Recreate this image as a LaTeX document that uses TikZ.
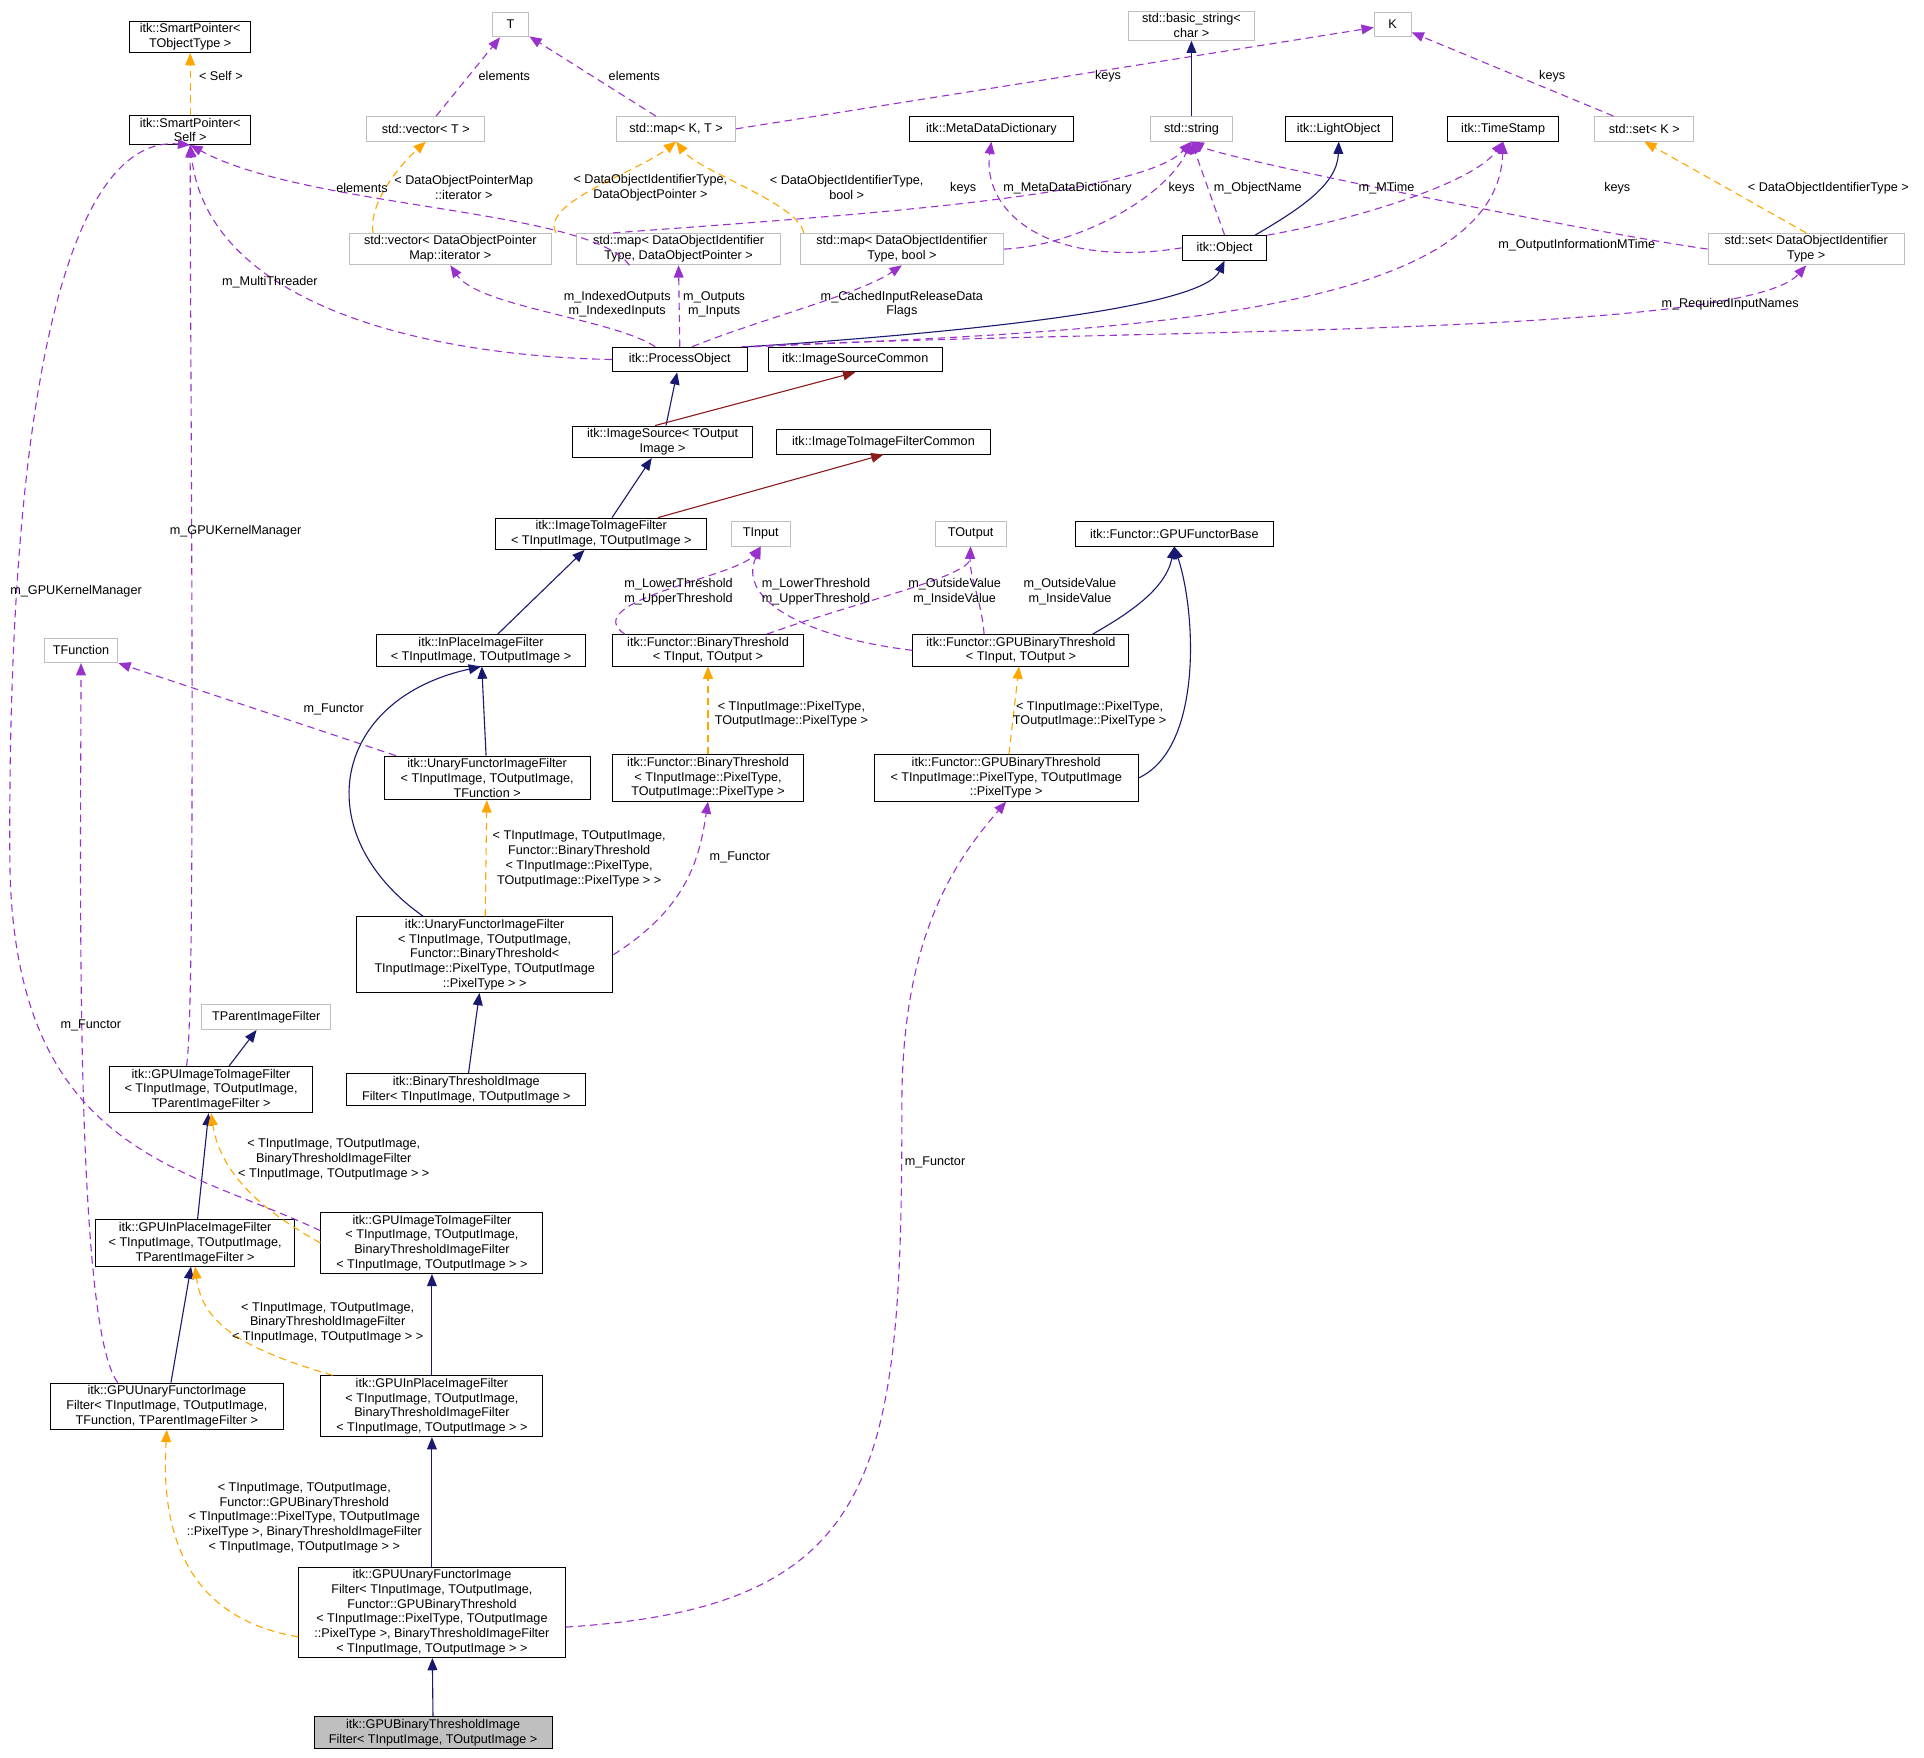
\documentclass[tikz,border=0pt]{standalone}
\usepackage{fontspec}
\setmainfont{Liberation Sans}
\usetikzlibrary{arrows.meta}
\definecolor{navy}{RGB}{25,25,112}
\definecolor{dpurple}{RGB}{153,50,204}
\definecolor{dorange}{RGB}{255,165,0}
\definecolor{dred}{RGB}{139,26,26}
\definecolor{gbox}{RGB}{191,191,191}
\begin{document}
\begin{tikzpicture}[x=1pt,y=-1pt,
  every node/.style={font=\fontsize{10.3}{12}\selectfont,align=center,inner sep=2pt},
  box/.style={draw=black,line width=0.8pt,minimum height=20pt,inner sep=2pt},
  gbox/.style={box,draw=gbox},
  lab/.style={inner sep=0pt},
  inh/.style={draw=navy,line width=0.9pt,-{Triangle[length=10pt,width=8pt]}},
  inr/.style={draw=dred,line width=0.9pt,-{Triangle[length=10pt,width=8pt]}},
  use/.style={draw=dpurple,line width=0.9pt,dash pattern=on 6pt off 4pt,-{Triangle[length=10pt,width=8pt]}},
  tpl/.style={draw=dorange,line width=0.9pt,dash pattern=on 6pt off 4pt,-{Triangle[length=10pt,width=8pt]}}]
\useasboundingbox (0,0) rectangle (1568,1432);
% nodes
\node[box,minimum width=99pt] (SPT) at (155,30) {itk::SmartPointer<\\TObjectType >};
\node[box,minimum width=99pt] (SPS) at (155,106) {itk::SmartPointer<\\Self >};
\node[gbox,minimum width=30pt] (T) at (416,20) {T};
\node[gbox,minimum width=102pt] (bstr) at (971,21) {std::basic\_string<\\char >};
\node[gbox,minimum width=30pt] (K) at (1135,20) {K};
\node[gbox,minimum width=96pt] (vecT) at (347,105) {std::vector< T >};
\node[gbox,minimum width=97pt] (mapKT) at (551,105) {std::map< K, T >};
\node[gbox,minimum width=67pt] (str) at (971,105) {std::string};
\node[gbox,minimum width=81pt] (setK) at (1340,105) {std::set< K >};
\node[box,minimum width=133pt] (MDD) at (808,105) {itk::MetaDataDictionary};
\node[box,minimum width=87pt] (LO) at (1091,105) {itk::LightObject};
\node[box,minimum width=90pt] (TS) at (1225,105) {itk::TimeStamp};
\node[gbox,minimum width=165pt] (vecDOP) at (367,203) {std::vector< DataObjectPointer\\Map::iterator >};
\node[gbox,minimum width=166pt] (mapDOP) at (553,203) {std::map< DataObjectIdentifier\\Type, DataObjectPointer >};
\node[gbox,minimum width=166pt] (mapbool) at (735,203) {std::map< DataObjectIdentifier\\Type, bool >};
\node[box,minimum width=69pt] (Obj) at (998,202) {itk::Object};
\node[gbox,minimum width=160pt] (setDOI) at (1472,203) {std::set< DataObjectIdentifier\\Type >};
\node[box,minimum width=110pt] (PO) at (554,293) {itk::ProcessObject};
\node[box,minimum width=142pt] (ISC) at (697,293) {itk::ImageSourceCommon};
\node[box,minimum width=147pt] (IS) at (540,360) {itk::ImageSource< TOutput\\Image >};
\node[box,minimum width=174pt] (ITIFC) at (720,360) {itk::ImageToImageFilterCommon};
\node[box,minimum width=172pt] (ITIF) at (490,435) {itk::ImageToImageFilter\\< TInputImage, TOutputImage >};
\node[gbox,minimum width=48pt] (TIn) at (620,435) {TInput};
\node[gbox,minimum width=58pt] (TOut) at (791,435) {TOutput};
\node[box,minimum width=161pt] (GFB) at (957,435) {itk::Functor::GPUFunctorBase};
\node[gbox,minimum width=60pt] (TFun) at (66,530) {TFunction};
\node[box,minimum width=171pt] (IPIF) at (392,530) {itk::InPlaceImageFilter\\< TInputImage, TOutputImage >};
\node[box,minimum width=155pt] (BT) at (577,530) {itk::Functor::BinaryThreshold\\< TInput, TOutput >};
\node[box,minimum width=176pt] (GBT) at (832,530) {itk::Functor::GPUBinaryThreshold\\< TInput, TOutput >};
\node[box,minimum width=168pt] (UFIF) at (397,634) {itk::UnaryFunctorImageFilter\\< TInputImage, TOutputImage,\\TFunction >};
\node[box,minimum width=155pt] (BTP) at (577,634) {itk::Functor::BinaryThreshold\\< TInputImage::PixelType,\\TOutputImage::PixelType >};
\node[box,minimum width=215pt] (GBTP) at (820,634) {itk::Functor::GPUBinaryThreshold\\< TInputImage::PixelType, TOutputImage\\::PixelType >};
\node[box,minimum width=209pt] (UFIF2) at (395,778) {itk::UnaryFunctorImageFilter\\< TInputImage, TOutputImage,\\Functor::BinaryThreshold<\\TInputImage::PixelType, TOutputImage\\::PixelType > >};
\node[gbox,minimum width=105pt] (TPIF) at (217,829) {TParentImageFilter};
\node[box,minimum width=165pt] (GITIF) at (172,888) {itk::GPUImageToImageFilter\\< TInputImage, TOutputImage,\\TParentImageFilter >};
\node[box,minimum width=195pt] (BTIF) at (380,888) {itk::BinaryThresholdImage\\Filter< TInputImage, TOutputImage >};
\node[box,minimum width=162pt] (GIPIF) at (159,1013) {itk::GPUInPlaceImageFilter\\< TInputImage, TOutputImage,\\TParentImageFilter >};
\node[box,minimum width=181pt] (GITIF2) at (352,1013) {itk::GPUImageToImageFilter\\< TInputImage, TOutputImage,\\BinaryThresholdImageFilter\\< TInputImage, TOutputImage > >};
\node[box,minimum width=190pt] (GUFIF) at (136,1146) {itk::GPUUnaryFunctorImage\\Filter< TInputImage, TOutputImage,\\TFunction, TParentImageFilter >};
\node[box,minimum width=181pt] (GIPIF2) at (352,1146) {itk::GPUInPlaceImageFilter\\< TInputImage, TOutputImage,\\BinaryThresholdImageFilter\\< TInputImage, TOutputImage > >};
\node[box,minimum width=217pt] (GUFIF2) at (352,1314) {itk::GPUUnaryFunctorImage\\Filter< TInputImage, TOutputImage,\\Functor::GPUBinaryThreshold\\< TInputImage::PixelType, TOutputImage\\::PixelType >, BinaryThresholdImageFilter\\< TInputImage, TOutputImage > >};
\node[box,fill=gbox,minimum width=194pt] (GBTIF) at (353,1412) {itk::GPUBinaryThresholdImage\\Filter< TInputImage, TOutputImage >};
% edges
\draw[tpl] (SPS) -- (SPT);
\draw[use] (vecT) -- (T);
\draw[use] (mapKT) -- (T);
\draw[use] (mapKT.east) -- (K);
\draw[use] (setK) -- (K);
\draw[inh] (str) -- (bstr);
\draw[tpl] (vecDOP.north west) ++(20,0) .. controls (300,170) and (320,140) .. (vecT.south);
\draw[tpl] (mapDOP.north) ++(-100,0) .. controls (440,165) and (520,140) .. (mapKT.south);
\draw[tpl] (mapbool.north) ++(-80,0) .. controls (650,165) and (570,140) .. (mapKT.south);
\draw[tpl] (setDOI.north) -- (setK.south);
\draw[use] (mapDOP.south) ++(-40,0) .. controls (480,170) and (250,170) .. (SPS.south);
\draw[use] (mapDOP.north west) ++(30,0) .. controls (700,175) and (930,160) .. (str.south);
\draw[use] (mapbool.east) .. controls (880,200) and (950,160) .. (str.south);
\draw[use] (Obj.west) .. controls (850,220) and (800,170) .. (MDD.south);
\draw[use] (Obj.north) -- (str.south);
\draw[use] (Obj.north east) .. controls (1100,180) and (1200,150) .. (TS.south);
\draw[inh] (Obj.north east) ++(-10,0) .. controls (1060,170) and (1090,150) .. (LO.south);
\draw[use] (setDOI.west) .. controls (1300,190) and (1000,130) .. (str.south);
\draw[inh] (PO.north east) .. controls (800,270) and (980,250) .. (Obj.south);
\draw[use] (PO.west) .. controls (350,290) and (170,250) .. (SPS.south);
\draw[use] (PO.north) ++(-20,0) .. controls (500,260) and (390,250) .. (vecDOP.south);
\draw[use] (PO.north) -- (mapDOP.south);
\draw[use] (PO.north) ++(10,0) .. controls (620,260) and (700,240) .. (mapbool.south);
\draw[use] (PO.north east) ++(5,0) .. controls (900,270) and (1220,260) .. (TS.south);
\draw[use] (PO.north east) ++(-5,0) .. controls (900,268) and (1420,275) .. (setDOI.south);
\draw[inh] (IS) -- (PO);
\draw[inr] (IS.north east) ++(-80,0) -- (ISC.south);
\draw[inh] (ITIF) -- (IS);
\draw[inr] (ITIF.north east) ++(-40,0) -- (ITIFC.south);
\draw[inh] (IPIF) -- (ITIF);
\draw[inh] (UFIF) -- (IPIF);
\draw[use] (UFIF.north west) ++(10,0) -- (TFun.south east);
\draw[use] (BT.north west) ++(10,0) .. controls (470,490) and (600,470) .. (TIn.south);
\draw[use] (BT.north east) ++(-30,0) .. controls (700,490) and (790,470) .. (TOut.south);
\draw[use] (GBT.west) .. controls (660,520) and (600,490) .. (TIn.south);
\draw[use] (GBT.north) ++(-30,0) .. controls (800,490) and (790,470) .. (TOut.south);
\draw[inh] (GBT.north east) ++(-30,0) .. controls (920,500) and (950,480) .. (GFB.south);
\draw[tpl] (BTP) -- (BT);
\draw[tpl] (GBTP) -- (GBT);
\draw[inh] (GBTP.east) .. controls (980,610) and (975,500) .. (GFB.south);
\draw[tpl] (UFIF2) -- (UFIF);
\draw[inh] (UFIF2.north) ++(-50,0) .. controls (250,680) and (270,570) .. (IPIF.south);
\draw[use] (UFIF2.east) .. controls (560,740) and (570,700) .. (BTP.south);
\draw[inh] (GITIF) -- (TPIF);
\draw[use] (GITIF.north) ++(-20,0) .. controls (160,820) and (155,300) .. (SPS.south);
\draw[inh] (BTIF) -- (UFIF2);
\draw[inh] (GIPIF) -- (GITIF);
\draw[tpl] (GITIF2.west) .. controls (220,990) and (180,960) .. (GITIF.south);
\draw[use] (GITIF2.west) ++(0,-10) .. controls (150,950) and (10,940) .. (8,700) .. controls (6,300) and (60,110) .. (SPS.south);
\draw[inh] (GUFIF) -- (GIPIF);
\draw[use] (GUFIF.north) ++(-40,0) .. controls (60,1080) and (66,700) .. (TFun.south);
\draw[tpl] (GIPIF2.north west) ++(10,0) .. controls (200,1100) and (165,1080) .. (GIPIF.south);
\draw[inh] (GIPIF2) -- (GITIF2);
\draw[tpl] (GUFIF2.west) ++(0,20) .. controls (160,1320) and (130,1260) .. (GUFIF.south);
\draw[inh] (GUFIF2) -- (GIPIF2);
\draw[use] (GUFIF2.east) ++(0,12) .. controls (720,1310) and (735,1200) .. (735,900) .. controls (735,760) and (780,700) .. (GBTP.south);
\draw[inh] (GBTIF) -- (GUFIF2);
% labels
\node[lab] (l1) at (180,62) {< Self >};
\node[lab] (l2) at (411,62) {elements};
\node[lab] (l3) at (517,62) {elements};
\node[lab] (l4) at (903,62) {keys};
\node[lab] (l5) at (1265,62) {keys};
\node[lab] (l6) at (378,153) {< DataObjectPointerMap\\::iterator >};
\node[lab] (l7) at (530,153) {< DataObjectIdentifierType,\\DataObjectPointer >};
\node[lab] (l8) at (690,153) {< DataObjectIdentifierType,\\bool >};
\node[lab] (l9) at (295,153) {elements};
\node[lab] (l10) at (785,153) {keys};
\node[lab] (l11) at (870,153) {m\_MetaDataDictionary};
\node[lab] (l12) at (963,153) {keys};
\node[lab] (l13) at (1025,153) {m\_ObjectName};
\node[lab] (l14) at (1130,153) {m\_MTime};
\node[lab] (l15) at (1318,153) {keys};
\node[lab] (l16) at (1490,153) {< DataObjectIdentifierType >};
\node[lab] (l17) at (220,230) {m\_MultiThreader};
\node[lab] (l18) at (503,248) {m\_IndexedOutputs\\m\_IndexedInputs};
\node[lab] (l19) at (582,248) {m\_Outputs\\m\_Inputs};
\node[lab] (l20) at (735,248) {m\_CachedInputReleaseData\\Flags};
\node[lab] (l21) at (1285,200) {m\_OutputInformationMTime};
\node[lab] (l22) at (1410,248) {m\_RequiredInputNames};
\node[lab] (l23) at (192,433) {m\_GPUKernelManager};
\node[lab] (l24) at (62,482) {m\_GPUKernelManager};
\node[lab] (l25) at (553,482) {m\_LowerThreshold\\m\_UpperThreshold};
\node[lab] (l26) at (665,482) {m\_LowerThreshold\\m\_UpperThreshold};
\node[lab] (l27) at (778,482) {m\_OutsideValue\\m\_InsideValue};
\node[lab] (l28) at (872,482) {m\_OutsideValue\\m\_InsideValue};
\node[lab] (l29) at (272,578) {m\_Functor};
\node[lab] (l30) at (645,582) {< TInputImage::PixelType,\\TOutputImage::PixelType >};
\node[lab] (l31) at (888,582) {< TInputImage::PixelType,\\TOutputImage::PixelType >};
\node[lab] (l32) at (472,700) {< TInputImage, TOutputImage,\\Functor::BinaryThreshold\\< TInputImage::PixelType,\\TOutputImage::PixelType > >};
\node[lab] (l33) at (603,699) {m\_Functor};
\node[lab] (l34) at (74,836) {m\_Functor};
\node[lab] (l35) at (272,945) {< TInputImage, TOutputImage,\\BinaryThresholdImageFilter\\< TInputImage, TOutputImage > >};
\node[lab] (l36) at (267,1078) {< TInputImage, TOutputImage,\\BinaryThresholdImageFilter\\< TInputImage, TOutputImage > >};
\node[lab] (l37) at (248,1237) {< TInputImage, TOutputImage,\\Functor::GPUBinaryThreshold\\< TInputImage::PixelType, TOutputImage\\::PixelType >, BinaryThresholdImageFilter\\< TInputImage, TOutputImage > >};
\node[lab] (l38) at (762,947) {m\_Functor};
\end{tikzpicture}
\end{document}
